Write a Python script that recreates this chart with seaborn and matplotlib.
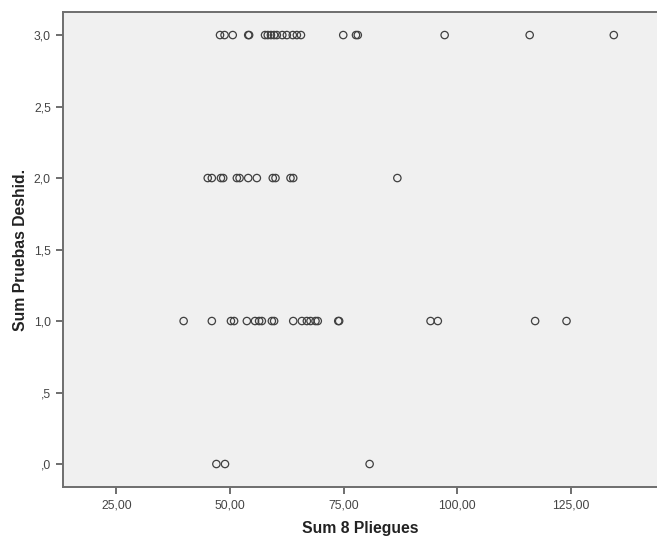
import seaborn as sns
import matplotlib.pyplot as plt
import pandas as pd

# Sum 8 Pliegues values for each level of Sum Pruebas Deshid.
pliegues_3 = [47.8, 48.8, 50.6, 54.0, 54.2, 57.7, 58.3, 59.0, 59.7, 60.3, 61.5, 62.5,
              63.8, 64.7, 65.6, 74.9, 77.7, 78.1, 97.2, 115.9, 134.4]
pliegues_2 = [45.1, 46.0, 48.0, 48.5, 51.5, 52.1, 54.0, 55.9, 59.4, 60.0, 63.3, 63.9, 86.8]
pliegues_1 = [39.8, 46.0, 50.2, 50.9, 53.7, 55.5, 56.4, 57.0, 59.2, 59.7, 63.9, 65.8,
              66.9, 67.7, 68.8, 69.3, 73.8, 74.0, 94.1, 95.7, 117.1, 124.0]
pliegues_0 = [47.0, 48.9, 80.7]

x_ticks = [25, 50, 75, 100, 125]
y_ticks = [0, 0.5, 1.0, 1.5, 2.0, 2.5, 3.0]
y_tick_labels = [",0", ",5", "1,0", "1,5", "2,0", "2,5", "3,0"]
x_tick_labels = ["25,00", "50,00", "75,00", "100,00", "125,00"]

df = pd.DataFrame({
    "pliegues": pliegues_3 + pliegues_2 + pliegues_1 + pliegues_0,
    "pruebas": [3.0] * len(pliegues_3) + [2.0] * len(pliegues_2)
               + [1.0] * len(pliegues_1) + [0.0] * len(pliegues_0),
})

sns.set_style("white")
plt.rcParams['font.family'] = ['Liberation Sans', 'DejaVu Sans']

fig = plt.figure(figsize=(6.57, 5.38), dpi=100)
ax = fig.add_axes([0.0954, 0.0942, 0.9046, 0.8829])
ax.set_facecolor('#F0F0F0')

sns.scatterplot(data=df, x="pliegues", y="pruebas", ax=ax, s=28,
                facecolor='none', edgecolor='#404040', linewidth=0.9)

ax.set_xlim(13.2, 143.9)
ax.set_ylim(-0.163, 3.159)
ax.set_xticks(x_ticks)
ax.set_xticklabels(x_tick_labels)
ax.set_yticks(y_ticks)
ax.set_yticklabels(y_tick_labels)

ax.tick_params(axis='both', which='major', labelsize=8.7, colors='#555555',
               labelcolor='#444444', length=5, width=1.2, direction='out')
ax.xaxis.set_ticks_position('bottom')
ax.yaxis.set_ticks_position('left')

for side in ['left', 'bottom', 'top']:
    ax.spines[side].set_color('#6E6E6E')
    ax.spines[side].set_linewidth(1.4)
ax.spines['right'].set_visible(False)

ax.set_xlabel('Sum 8 Pliegues', fontsize=11.3, fontweight='bold', color='#222222', labelpad=7)
ax.set_ylabel('Sum Pruebas Deshid.', fontsize=11.3, fontweight='bold', color='#222222', labelpad=4)

fig.savefig('out.png', dpi=100)
